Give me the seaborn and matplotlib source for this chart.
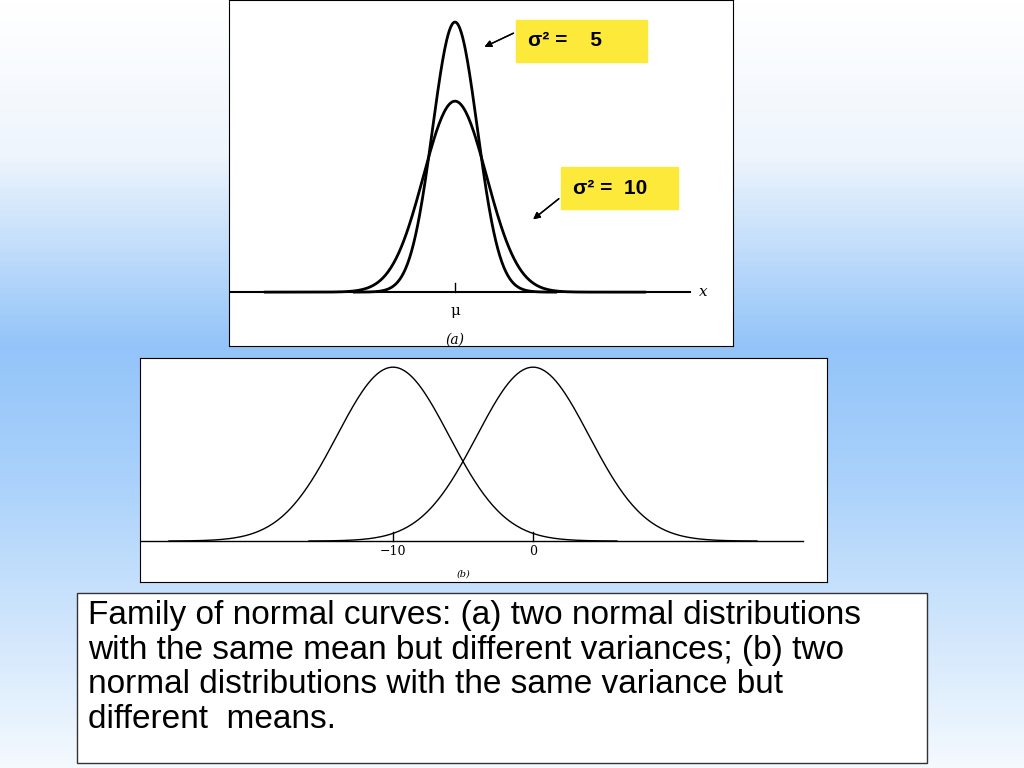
import numpy as np
import matplotlib.pyplot as plt
import seaborn as sns
from matplotlib.colors import LinearSegmentedColormap

# --- data ---
means_a = [0, 0]
variances_a = [5, 10]
labels_a = ["σ² =    5", "σ² =  10"]
means_b = [-10, 0]
variance_b = 16
ticks_b = [-10, 0]
tick_labels_b = ["−10", "0"]
caption = ("Family of normal curves: (a) two normal distributions\n"
           "with the same mean but different variances; (b) two\n"
           "normal distributions with the same variance but\n"
           "different  means.")

W, H = 1024, 768


def px(x, y):
    return x / W, 1 - y / H


def rect(l, t, r, b):
    return [l / W, 1 - b / H, (r - l) / W, (b - t) / H]


def curve(mu, var, k=4):
    sd = np.sqrt(var)
    x = np.linspace(mu - k * sd, mu + k * sd, 300)
    return x, np.exp(-(x - mu) ** 2 / (2 * var)) / (sd * np.sqrt(2 * np.pi))


fig = plt.figure(figsize=(10.24, 7.68), dpi=100)

# background gradient
bg = fig.add_axes([0, 0, 1, 1], zorder=-10)
cmap = LinearSegmentedColormap.from_list(
    "bg", [(0, "#ffffff"), (0.2, "#eef5fd"), (0.45, "#93c4f9"),
           (0.62, "#a9d1fb"), (1.0, "#f4f9fe")])
bg.imshow(np.linspace(0, 1, 256)[:, None], aspect="auto", cmap=cmap,
          extent=[0, 1, 0, 1])
bg.axis("off")

# ── panel (a) ──
ax = fig.add_axes(rect(229, 0, 733, 346))
for mu, var, k in zip(means_a, variances_a, [4.5, 6]):
    x, y = curve(mu, var, k=k)
    sns.lineplot(x=x, y=y, ax=ax, color="black", lw=2)
ax.plot([-22.6, 23.5], [0, 0], color="black", lw=1.5)
ax.plot([0, 0], [0, 0.006], color="black", lw=1)
ax.text(0, -0.008, "μ", ha="center", va="top", fontsize=11, family="DejaVu Serif")
ax.text(0, -0.027, "(a)", ha="center", va="top", fontsize=10,
        family="DejaVu Serif", style="italic")
ax.text(24.8, 0, "x", ha="center", va="center", fontsize=11,
        family="DejaVu Serif", style="italic")
ax.set_xlim(-22.6, 27.8)
ax.set_ylim(-0.0356, 0.193)
ax.set_xticks([]); ax.set_yticks([])
ax.set_xlabel(""); ax.set_ylabel("")
ax.set_facecolor("white")

# ── panel (b) ──
bx = fig.add_axes(rect(140, 358, 827, 582))
for mu in means_b:
    x, y = curve(mu, variance_b, k=4)
    sns.lineplot(x=x, y=y, ax=bx, color="black", lw=1)
bx.plot([-28.1, 19.3], [0, 0], color="black", lw=1)
for t, lab in zip(ticks_b, tick_labels_b):
    bx.plot([t, t], [0, 0.005], color="black", lw=1)
    bx.text(t, -0.002, lab, ha="center", va="top", fontsize=9, family="DejaVu Serif")
bx.text(-5, -0.0165, "(b)", ha="center", va="top", fontsize=7,
        family="DejaVu Serif", style="italic")
bx.set_xlim(-28.07, 21)
bx.set_ylim(-0.0235, 0.105)
bx.set_xticks([]); bx.set_yticks([])
bx.set_xlabel(""); bx.set_ylabel("")
bx.set_facecolor("white")

# ── annotation boxes ──
boxes = [(516, 20, 647, 62), (561, 167, 678, 209)]
arrows = [((516, 32), (482, 48)), ((561, 197), (531, 221))]
for lab, (l, t, r, b), (start, end) in zip(labels_a, boxes, arrows):
    fig.patches.append(plt.Rectangle(px(l, b), (r - l) / W, (b - t) / H,
                                     transform=fig.transFigure,
                                     color="#fde93a", zorder=5))
    fig.text(*px(l + 12, (t + b) / 2), lab, fontsize=15, fontweight="bold",
             va="center", family="Liberation Sans", zorder=6)
    fig.add_artist(plt.annotate("", xy=px(*end), xytext=px(*start),
                                xycoords="figure fraction",
                                arrowprops=dict(arrowstyle="-|>", color="black", lw=1)))

# ── caption ──
fig.patches.append(plt.Rectangle(px(77, 763), 850 / W, 170 / H,
                                 transform=fig.transFigure, facecolor="white",
                                 edgecolor="#333333", lw=1, zorder=5))
fig.text(*px(88, 600), caption, fontsize=24, va="top", ha="left",
         family="Liberation Sans", linespacing=1.15, zorder=6)

fig.savefig("out.png", dpi=100)
